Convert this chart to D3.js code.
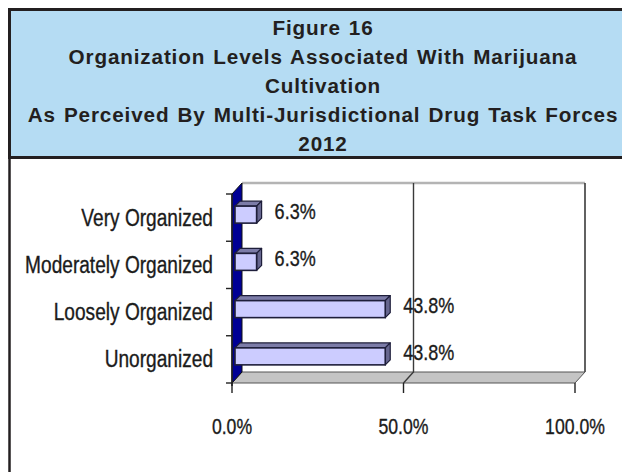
<!DOCTYPE html>
<html>
<head>
<meta charset="utf-8">
<script src="https://cdn.jsdelivr.net/npm/d3@7"></script>
<style>
  html, body { margin: 0; padding: 0; background: #ffffff; }
  svg { display: block; }
  .narrow { font-family: "Liberation Sans", Arial, sans-serif; fill: #1b1b1b; stroke: #1b1b1b; stroke-width: 0.35; }
  .title { font-family: "Liberation Sans", Arial, sans-serif; font-weight: bold; fill: #231f20; }
</style>
</head>
<body>
<script>
// Organization levels reported by task forces, 2012
const categories = ["Very Organized", "Moderately Organized", "Loosely Organized", "Unorganized"];
const values = [0.063, 0.063, 0.438, 0.438];
const valueLabels = ["6.3%", "6.3%", "43.8%", "43.8%"];
const xTicks = [0, 0.5, 1.0];
const xTickLabels = ["0.0%", "50.0%", "100.0%"];
const titleLines = [
  "Figure 16",
  "Organization Levels Associated With Marijuana",
  "Cultivation",
  "As Perceived By Multi-Jurisdictional Drug Task Forces",
  "2012"
];

const W = 622, H = 472;
const NARROW = 0.82;   // horizontal squeeze for the condensed chart lettering
const svg = d3.select("body").append("svg").attr("width", W).attr("height", H);

// ---- frame and title band ----
svg.append("rect").attr("x", 9.5).attr("y", 9.5).attr("width", 640).attr("height", 148)
  .attr("fill", "#b5dcf3").attr("stroke", "#231f20").attr("stroke-width", 3);
svg.append("line").attr("x1", 9.5).attr("x2", 9.5).attr("y1", 158).attr("y2", H + 5)
  .attr("stroke", "#231f20").attr("stroke-width", 2.5);

svg.append("g").selectAll("text").data(titleLines).join("text")
  .attr("class", "title")
  .attr("x", 323).attr("y", (d, i) => 35 + i * 29)
  .attr("text-anchor", "middle")
  .attr("font-size", 20.7)
  .attr("letter-spacing", 0.85)
  .attr("word-spacing", 1.5)
  .text(d => d);

// ---- 3D bar chart ----
const x = d3.scaleLinear().domain([0, 1]).range([232, 575]);
const y = d3.scaleBand().domain(categories).range([194, 383]).paddingInner(0).paddingOuter(0);
const wallDX = 10, wallDY = -11;      // depth of the walls / floor
const barOX = 3, barOY = -3;          // bar front face offset into the depth
const barDX = 5, barDY = -5;          // bar thickness in depth
const barH = 17;

const x0 = x(0), x1 = x(1), yTop = y.range()[0], yBot = y.range()[1];
const poly = pts => "M" + pts.map(p => p.join(",")).join("L") + "Z";
const at = (px, py) => `translate(${px},${py}) scale(${NARROW},1)`;

const chart = svg.append("g");

// back wall
chart.append("path")
  .attr("d", poly([[x0 + wallDX, yTop + wallDY], [x1 + wallDX, yTop + wallDY], [x1 + wallDX, yBot + wallDY], [x0 + wallDX, yBot + wallDY]]))
  .attr("fill", "#ffffff").attr("stroke", "none");
chart.append("line")
  .attr("x1", x0 + wallDX).attr("x2", x1 + wallDX).attr("y1", yTop + wallDY).attr("y2", yTop + wallDY)
  .attr("stroke", "#b4b4b4").attr("stroke-width", 2.5);
chart.append("line")
  .attr("x1", x1 + wallDX).attr("x2", x1 + wallDX).attr("y1", yTop + wallDY).attr("y2", yBot + wallDY)
  .attr("stroke", "#3a3a3a").attr("stroke-width", 1.6);

// floor
chart.append("path")
  .attr("d", poly([[x0, yBot], [x1, yBot], [x1 + wallDX, yBot + wallDY], [x0 + wallDX, yBot + wallDY]]))
  .attr("fill", "#c4c4c4").attr("stroke", "#555").attr("stroke-width", 1);

// gridlines on back wall and floor
chart.selectAll("path.grid").data(xTicks.filter(t => t > 0 && t < 1)).join("path")
  .attr("class", "grid")
  .attr("d", t => `M${x(t) + wallDX},${yTop + wallDY}L${x(t) + wallDX},${yBot + wallDY}L${x(t)},${yBot}`)
  .attr("fill", "none").attr("stroke", "#3a3a3a").attr("stroke-width", 1.4);

// left wall
chart.append("path")
  .attr("d", poly([[x0, yTop], [x0 + wallDX, yTop + wallDY], [x0 + wallDX, yBot + wallDY], [x0, yBot]]))
  .attr("fill", "#000094").attr("stroke", "#111").attr("stroke-width", 1);

// category axis line along the front of the left wall, with ticks between categories
chart.append("line").attr("x1", x0).attr("x2", x0).attr("y1", yTop).attr("y2", yBot + 3)
  .attr("stroke", "#222").attr("stroke-width", 1.6);
const catBounds = categories.map(c => y(c)).concat([yBot]);
chart.selectAll("line.ytick").data(catBounds).join("line")
  .attr("class", "ytick")
  .attr("x1", x0 - 6).attr("x2", x0).attr("y1", d => d).attr("y2", d => d)
  .attr("stroke", "#222").attr("stroke-width", 1.4);

// x-axis ticks and labels
chart.selectAll("line.xtick").data(xTicks).join("line")
  .attr("class", "xtick")
  .attr("x1", d => x(d)).attr("x2", d => x(d)).attr("y1", yBot).attr("y2", yBot + 10)
  .attr("stroke", "#222").attr("stroke-width", 1.4);
chart.selectAll("text.xlab").data(xTicks).join("text")
  .attr("class", "xlab narrow")
  .attr("transform", d => at(x(d), 434))
  .attr("text-anchor", "middle").attr("font-size", 21.5)
  .text((d, i) => xTickLabels[i]);

// category labels
chart.selectAll("text.ylab").data(categories).join("text")
  .attr("class", "ylab narrow")
  .attr("transform", d => at(213, y(d) + y.bandwidth() / 2 + 8))
  .attr("text-anchor", "end").attr("font-size", 23.3)
  .text(d => d);

// bars: top, end and front faces
const bars = chart.selectAll("g.bar").data(categories.map((c, i) => ({ c, v: values[i], label: valueLabels[i] })))
  .join("g").attr("class", "bar");
const fx0 = x0 + barOX;
const fy = d => y(d.c) + y.bandwidth() / 2 - barH / 2 + barOY;
const fx1 = d => x(d.v) + barOX;

bars.append("path") // top face
  .attr("d", d => poly([[fx0, fy(d)], [fx1(d), fy(d)], [fx1(d) + barDX, fy(d) + barDY], [fx0 + barDX, fy(d) + barDY]]))
  .attr("fill", "#7c7ca8").attr("stroke", "#1e1e3a").attr("stroke-width", 1.2).attr("stroke-linejoin", "round");
bars.append("path") // end face
  .attr("d", d => poly([[fx1(d), fy(d)], [fx1(d) + barDX, fy(d) + barDY], [fx1(d) + barDX, fy(d) + barDY + barH], [fx1(d), fy(d) + barH]]))
  .attr("fill", "#66668f").attr("stroke", "#1e1e3a").attr("stroke-width", 1.2).attr("stroke-linejoin", "round");
bars.append("rect") // front face
  .attr("x", fx0).attr("y", fy).attr("width", d => fx1(d) - fx0).attr("height", barH)
  .attr("fill", "#ccccff").attr("stroke", "#1e1e3a").attr("stroke-width", 1.6);

// value labels
bars.append("text")
  .attr("class", "narrow")
  .attr("transform", d => at(fx1(d) + 18, fy(d) + barH / 2 + 4))
  .attr("font-size", 22)
  .text(d => d.label);
</script>
</body>
</html>
